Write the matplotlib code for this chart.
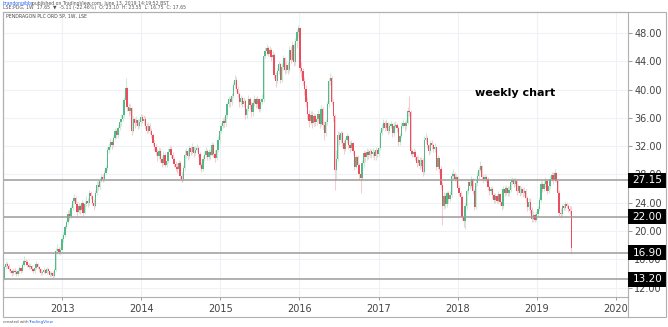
import numpy as np
import pandas as pd
import matplotlib
matplotlib.use('Agg')
import matplotlib.pyplot as plt
import matplotlib.dates as mdates
import matplotlib.transforms as mtransforms
from matplotlib.patches import Rectangle
from matplotlib.lines import Line2D

# weekly bars, first bar week of 2012-04-09
first_open = 13.3

close_2012 = [14.9, 15.3, 15.1, 14.6, 14.3, 14.0, 14.4, 14.2, 13.9, 14.3, 14.7, 14.4, 15.2, 15.8, 15.6, 15.2, 14.9, 15.1, 14.6, 14.3,
              14.8, 15.3, 14.9, 14.6, 14.0, 14.2, 14.5, 14.1, 14.6, 14.3, 13.8, 14.1, 13.6, 14.5, 17.2, 17.5, 17.0, 17.3]
high_2012 = [15.2, 15.7, 15.6, 15.3, 14.8, 14.6, 14.8, 14.7, 14.5, 14.6, 15.0, 14.9, 15.5, 16.4, 16.1, 15.9, 15.4, 15.5, 15.2, 14.8,
             15.1, 15.8, 15.4, 15.0, 14.8, 14.5, 14.9, 14.6, 14.9, 14.8, 14.4, 14.4, 14.3, 14.8, 17.6, 18.1, 17.8, 17.7]
low_2012 = [13.1, 14.6, 14.7, 14.3, 14.0, 13.7, 13.8, 13.9, 13.6, 13.7, 14.1, 14.1, 14.2, 15.0, 15.2, 14.9, 14.6, 14.6, 14.4, 14.0,
            14.1, 14.6, 14.6, 14.2, 13.8, 13.8, 14.0, 13.9, 13.9, 14.0, 13.5, 13.6, 13.4, 13.5, 14.3, 16.8, 16.7, 16.6]

close_2013 = [18.9, 19.4, 20.5, 21.2, 22.4, 22.1, 23.3, 24.2, 24.6, 23.8, 22.7, 23.6, 22.9, 23.9, 22.6, 23.8, 24.3, 23.9, 25.3, 24.9,
              24.0, 23.6, 25.4, 26.5, 26.2, 27.1, 27.6, 27.4, 28.2, 28.9, 31.5, 31.9, 32.6, 32.1, 33.2, 34.1, 33.6, 34.5, 35.4, 35.9,
              36.4, 38.5, 40.2, 37.6, 37.0, 37.4, 34.2, 35.8, 35.2, 35.7, 34.9, 35.4]
high_2013 = [19.3, 19.9, 20.9, 21.6, 22.9, 23.0, 23.7, 24.8, 25.2, 24.9, 24.1, 24.0, 23.8, 24.4, 24.1, 24.2, 24.9, 24.6, 25.8, 25.6,
             25.1, 24.5, 25.8, 27.1, 27.0, 27.5, 28.1, 28.0, 28.6, 29.4, 31.9, 32.5, 33.1, 32.9, 33.6, 34.6, 34.4, 35.0, 35.9, 36.6,
             37.0, 39.0, 41.7, 40.4, 38.1, 38.0, 37.6, 36.3, 36.0, 36.2, 35.9, 35.9]
low_2013 = [17.0, 18.5, 19.2, 20.3, 21.0, 21.6, 21.8, 23.0, 23.9, 23.5, 22.0, 22.5, 22.4, 22.8, 22.1, 22.4, 23.5, 23.4, 23.7, 24.5,
            23.7, 22.9, 23.4, 25.1, 25.8, 26.0, 26.9, 26.9, 27.1, 28.0, 28.6, 31.0, 31.6, 31.6, 31.9, 32.9, 33.1, 33.2, 34.3, 34.9,
            35.5, 36.1, 38.0, 37.0, 36.2, 36.5, 33.6, 34.0, 34.6, 34.8, 34.4, 34.6]

close_2014 = [36.1, 35.6, 35.9, 34.8, 34.2, 34.9, 34.1, 33.6, 32.4, 31.9, 31.2, 30.6, 31.3, 30.2, 29.6, 30.8, 29.4, 29.9, 31.2, 31.6,
              30.7, 30.2, 29.5, 29.1, 28.7, 29.6, 27.8, 27.4, 28.9, 30.8, 31.3, 30.6, 31.7, 31.2, 31.9, 31.0, 31.5, 31.8, 30.9, 29.4,
              28.8, 30.2, 30.7, 31.3, 30.4, 31.1, 30.8, 32.1, 30.9, 30.3, 31.4, 32.8]
high_2014 = [36.6, 36.5, 36.4, 36.2, 35.3, 35.4, 35.2, 34.5, 33.9, 32.8, 32.3, 31.6, 31.9, 31.7, 30.6, 31.3, 31.2, 30.4, 31.8, 32.2,
             32.0, 31.1, 30.5, 29.9, 29.6, 30.1, 29.9, 28.4, 29.3, 31.4, 31.8, 31.6, 32.2, 32.0, 32.4, 32.0, 32.0, 32.3, 32.0, 31.2,
             29.8, 30.6, 31.3, 31.9, 31.6, 31.6, 31.5, 32.6, 32.4, 31.4, 31.9, 33.4]
low_2014 = [34.9, 35.2, 35.0, 34.4, 33.8, 33.9, 33.7, 33.1, 32.0, 31.4, 30.7, 29.9, 30.2, 29.7, 29.0, 29.3, 29.0, 29.1, 29.6, 30.9,
            30.3, 29.8, 29.1, 28.5, 28.2, 28.4, 27.4, 26.9, 27.1, 28.6, 30.3, 30.1, 30.3, 30.8, 30.9, 30.5, 30.7, 31.1, 30.4, 29.0,
            28.3, 28.5, 29.9, 30.4, 30.0, 30.1, 30.2, 30.6, 30.5, 29.8, 30.1, 31.2]

close_2015 = [34.2, 34.9, 35.6, 35.2, 36.4, 37.9, 38.6, 38.2, 39.1, 40.6, 41.3, 40.1, 39.4, 38.2, 38.8, 37.9, 38.4, 36.4, 37.2, 38.6,
              37.8, 36.8, 38.1, 38.7, 37.9, 38.6, 37.2, 38.3, 38.6, 44.8, 45.4, 45.9, 45.1, 45.6, 44.6, 44.9, 42.1, 41.2, 42.6, 43.6,
              41.4, 43.2, 44.4, 42.7, 43.5, 42.8, 45.6, 44.2, 46.3, 43.9, 46.8]
high_2015 = [34.7, 35.3, 36.0, 36.1, 36.8, 38.3, 39.1, 39.0, 39.5, 41.1, 42.0, 41.8, 40.5, 39.6, 39.3, 39.0, 38.9, 38.6, 37.8, 39.2,
             38.9, 38.2, 38.6, 39.3, 39.0, 39.1, 38.7, 38.8, 39.4, 45.3, 46.0, 46.5, 46.2, 46.1, 45.9, 45.4, 45.2, 42.5, 43.1, 44.1,
             43.8, 43.7, 44.9, 44.6, 44.0, 43.9, 46.2, 46.1, 46.8, 46.6, 47.3]
low_2015 = [32.5, 33.8, 34.5, 34.7, 34.9, 36.0, 37.5, 37.6, 37.8, 38.8, 40.2, 39.6, 38.9, 37.6, 37.8, 37.5, 37.5, 35.9, 36.0, 36.9,
            37.2, 36.1, 36.3, 37.7, 37.4, 37.6, 36.8, 36.9, 37.9, 38.2, 44.4, 44.9, 44.7, 44.8, 44.1, 44.2, 41.6, 40.3, 40.9, 42.2,
            40.9, 41.0, 42.8, 42.2, 42.3, 42.2, 42.5, 43.8, 44.0, 43.4, 43.5]

close_2016 = [48.1, 48.7, 43.0, 42.6, 41.2, 40.1, 38.3, 36.5, 35.6, 36.4, 35.3, 36.2, 35.4, 35.9, 36.6, 35.1, 37.3, 35.0, 33.9, 35.4,
              37.9, 41.2, 41.6, 38.3, 36.3, 28.6, 30.2, 33.6, 32.9, 33.8, 32.4, 31.6, 32.8, 33.4, 32.2, 31.7, 32.4, 31.3, 29.1, 30.4,
              29.3, 28.0, 27.5, 29.6, 31.0, 30.4, 31.2, 30.8, 31.3, 30.9, 31.2, 30.6]
high_2016 = [48.5, 49.2, 48.9, 43.9, 43.1, 41.8, 40.6, 38.9, 37.1, 36.9, 36.9, 36.7, 36.6, 36.4, 37.1, 36.9, 37.8, 37.6, 35.6, 35.9,
             38.4, 41.7, 42.3, 41.9, 38.7, 36.5, 31.5, 34.1, 34.0, 34.2, 34.1, 32.9, 33.2, 33.9, 33.6, 32.7, 32.8, 32.6, 31.5, 30.8,
             30.7, 29.6, 28.4, 30.1, 31.5, 31.3, 31.7, 31.6, 31.8, 31.6, 31.7, 31.4]
low_2016 = [45.9, 47.4, 42.5, 41.8, 40.6, 39.3, 37.6, 35.9, 34.7, 35.1, 34.6, 34.9, 34.9, 35.0, 35.4, 34.6, 34.8, 34.4, 32.9, 33.5,
            35.0, 37.6, 40.6, 37.9, 35.6, 25.8, 27.3, 29.9, 32.2, 32.5, 31.9, 30.9, 31.3, 32.5, 31.6, 31.2, 31.4, 30.8, 28.6, 28.9,
            28.5, 27.4, 25.4, 27.2, 29.1, 29.8, 30.0, 30.2, 30.4, 30.3, 30.5, 30.1]

close_2017 = [31.4, 30.9, 31.7, 33.9, 34.6, 35.2, 34.6, 35.3, 34.1, 34.8, 35.1, 33.8, 34.9, 35.0, 34.6, 32.6, 33.4, 34.9, 35.2, 34.8,
              35.3, 37.0, 36.8, 31.3, 30.9, 31.2, 30.5, 29.6, 30.1, 29.2, 30.0, 28.3, 32.9, 33.2, 32.1, 31.3, 32.4, 32.1, 31.6, 31.9,
              29.1, 30.3, 28.8, 26.5, 23.5, 24.9, 23.8, 25.3, 24.5, 25.1, 27.8]
high_2017 = [31.9, 31.6, 32.2, 34.3, 35.1, 35.8, 35.6, 35.8, 35.4, 35.2, 35.6, 35.3, 35.4, 35.6, 35.3, 34.9, 33.9, 35.4, 35.8, 35.6,
             35.8, 37.6, 39.1, 37.1, 31.6, 31.7, 31.4, 30.7, 30.6, 30.4, 30.5, 30.3, 33.4, 33.8, 33.5, 32.3, 32.9, 32.8, 32.5, 32.4,
             31.9, 30.8, 30.5, 29.2, 26.9, 25.5, 25.2, 25.7, 25.6, 25.7, 28.4]
low_2017 = [30.1, 30.5, 30.6, 31.4, 33.6, 34.3, 34.1, 34.3, 33.7, 33.8, 34.5, 33.3, 33.5, 34.5, 34.0, 32.0, 32.2, 33.1, 34.6, 34.2,
            34.4, 35.1, 36.2, 30.8, 30.4, 30.4, 30.0, 29.1, 29.3, 28.8, 28.9, 27.8, 28.0, 32.5, 31.7, 30.8, 31.0, 31.6, 31.1, 31.1,
            28.6, 28.8, 28.2, 25.9, 20.8, 23.1, 23.2, 23.4, 23.9, 24.2, 24.8]

close_2018 = [28.1, 27.4, 27.6, 26.1, 25.3, 24.8, 22.0, 21.4, 23.5, 25.6, 26.9, 26.4, 27.3, 25.6, 23.4, 26.8, 27.8, 28.6, 29.2, 27.7,
              27.3, 27.6, 27.4, 26.2, 25.6, 25.9, 25.1, 24.4, 24.9, 24.3, 25.2, 24.1, 23.6, 26.0, 25.4, 26.1, 25.3, 25.8, 26.9, 27.2,
              26.6, 27.1, 25.6, 26.3, 25.4, 25.9, 25.3, 25.7, 24.6, 23.4, 24.1]
high_2018 = [28.7, 28.4, 28.1, 27.8, 26.5, 25.7, 25.1, 22.6, 23.9, 25.9, 27.3, 27.2, 27.8, 27.5, 25.9, 27.2, 28.3, 29.1, 29.9, 29.4,
             28.1, 28.0, 27.9, 27.6, 26.5, 26.3, 26.2, 25.4, 25.3, 25.1, 25.6, 25.4, 24.5, 26.4, 26.3, 26.5, 26.4, 26.3, 27.4, 27.7,
             27.5, 27.5, 27.3, 26.7, 26.5, 26.3, 26.1, 26.2, 25.9, 24.9, 24.6]
low_2018 = [27.3, 27.0, 27.1, 25.7, 24.9, 24.2, 21.6, 20.6, 20.3, 23.1, 25.2, 25.9, 26.1, 25.2, 22.9, 23.1, 26.4, 27.4, 28.3, 27.2,
            26.8, 27.0, 26.9, 25.8, 25.1, 25.2, 24.7, 23.9, 24.0, 23.9, 24.0, 23.7, 22.9, 23.3, 25.0, 25.1, 24.9, 25.0, 25.5, 26.6,
            26.2, 26.3, 25.1, 25.3, 25.0, 25.1, 24.8, 25.0, 24.1, 22.8, 23.0]

close_2019 = [22.9, 21.7, 22.3, 21.6, 22.4, 23.1, 24.4, 26.7, 25.9, 26.6, 27.1, 25.6, 26.4, 27.3, 27.9, 27.2, 28.2, 27.1, 25.4, 22.6,
              22.4, 23.5, 23.3, 23.8, 23.5, 23.1, 22.76, 17.65]
high_2019 = [24.6, 23.4, 22.8, 22.6, 22.8, 23.5, 24.8, 27.1, 27.0, 27.0, 27.6, 27.3, 26.9, 27.8, 28.4, 28.3, 28.8, 28.4, 27.4, 25.8,
             23.2, 23.8, 23.9, 24.2, 24.1, 23.8, 23.5, 23.55]
low_2019 = [22.5, 21.3, 21.2, 21.2, 21.4, 22.1, 22.8, 24.1, 25.5, 25.6, 26.1, 25.2, 25.3, 26.0, 27.0, 26.7, 26.9, 26.9, 25.0, 22.1,
            21.9, 22.1, 22.9, 23.0, 23.2, 22.7, 22.4, 16.75]

levels = [27.15, 22.00, 16.90, 13.20]
price_ticks = [12, 16, 20, 24, 28, 32, 36, 40, 44, 48]
years = [2013, 2014, 2015, 2016, 2017, 2018, 2019, 2020]

close = np.array(close_2012 + close_2013 + close_2014 + close_2015 + close_2016 + close_2017 + close_2018 + close_2019)
high = np.array(high_2012 + high_2013 + high_2014 + high_2015 + high_2016 + high_2017 + high_2018 + high_2019)
low = np.array(low_2012 + low_2013 + low_2014 + low_2015 + low_2016 + low_2017 + low_2018 + low_2019)
opens = np.concatenate([[first_open], close[:-1]])
high = np.maximum(high, np.maximum(opens, close))
low = np.minimum(low, np.minimum(opens, close))
up = close >= opens

dates = pd.date_range('2012-04-09', periods=len(close), freq='7D')
x = mdates.date2num(dates)

W, H = 668, 327
fig = plt.figure(figsize=(W / 100, H / 100), dpi=100)
ax = fig.add_axes([3 / W, 30 / H, 625 / W, 285 / H])

up_col, dn_col = '#53b987', '#eb4d5c'
wick_up, wick_dn = '#cfe8dc', '#f6cdd2'

ax.vlines(x, low, high, colors=np.where(up, wick_up, wick_dn), lw=0.8, zorder=2)
body = close - opens
body = np.where(np.abs(body) < 0.12, 0.12, body)
ax.bar(x, body, bottom=opens, width=6, color=np.where(up, up_col, dn_col), lw=0, zorder=3)

for lv in levels:
    ax.axhline(lv, color='#9b9b9b', lw=1.1, zorder=4)

ax.set_xlim(mdates.date2num(pd.Timestamp('2012-04-03')), mdates.date2num(pd.Timestamp('2020-02-27')))
ax.set_ylim(10.66, 50.97)

year_pos = [mdates.date2num(pd.Timestamp(f'{y}-01-01')) for y in years]
ax.set_xticks(year_pos)
ax.set_xticklabels([str(y) for y in years])
ax.set_yticks(price_ticks)
ax.set_yticklabels([f'{t:.2f}' for t in price_ticks])
ax.yaxis.tick_right()
ax.tick_params(axis='y', labelsize=7, colors='#999999', labelcolor='#444444', length=3, width=0.7, pad=1.5)
ax.tick_params(axis='x', labelsize=7, colors='#999999', labelcolor='#444444', length=2, width=0.7, pad=3)
ax.grid(True, color='#eef1f6', lw=0.8, zorder=0)
ax.set_axisbelow(True)
for s in ax.spines.values():
    s.set_color('#b0b0b0')
    s.set_linewidth(0.8)

# price tags on the right scale
tr = mtransforms.blended_transform_factory(ax.transAxes, ax.transData)
box_w = 39 / 625
box_h = 15 / (285 / (50.97 - 10.66))
for lv in levels:
    ax.add_patch(Rectangle((1.0, lv - box_h / 2), box_w, box_h, transform=tr,
                           fc='black', ec='none', clip_on=False, zorder=6))
    ax.text(1.0 + box_w / 2, lv, f'{lv:.2f}', transform=tr, ha='center', va='center',
            color='white', fontsize=7.5, clip_on=False, zorder=7)

# hide the part of the last year label under the price scale
fig.patches.append(Rectangle((628.6 / W, 10.5 / H), 37 / W, 19 / H, transform=fig.transFigure,
                             fc='white', ec='none', zorder=2))
fig.patches.append(Rectangle((3 / W, 10 / H), 663 / W, 305 / H, transform=fig.transFigure,
                             fill=False, ec='#b0b0b0', lw=0.8, zorder=3))
fig.lines.append(Line2D([628 / W, 628 / W], [10 / H, 30 / H], transform=fig.transFigure,
                        color='#b0b0b0', lw=0.8, zorder=3))

fig.text(3 / W, 1 - 3.5 / H, 'brandongibbs', color='#2962ff', fontsize=3.3, va='center')
fig.text(32 / W, 1 - 3.5 / H, 'published on TradingView.com, June 13, 2019 14:19:52 BST',
         color='#555555', fontsize=3.3, va='center')
fig.text(3 / W, 1 - 8 / H, 'LSE:PDG, 1W  17.65  \u25bc  -5.11 (-22.46%)  O: 23.10  H: 23.55  L: 16.75  C: 17.65',
         color='#555555', fontsize=3.3, va='center')
fig.text(6 / W, 1 - 16 / H, 'PENDRAGON PLC ORD 5P, 1W, LSE', color='#444444', fontsize=3.3, va='center')
fig.text(3 / W, 1 - 322 / H, 'created with', color='#555555', fontsize=3.0, va='center')
fig.text(28 / W, 1 - 322 / H, 'TradingView', color='#2962ff', fontsize=3.0, va='center')

fig.text(515 / W, 1 - 93 / H, 'weekly chart', fontsize=8, fontweight='bold', color='black',
         ha='center', va='center')

fig.savefig('out.png', dpi=100, facecolor='white')
